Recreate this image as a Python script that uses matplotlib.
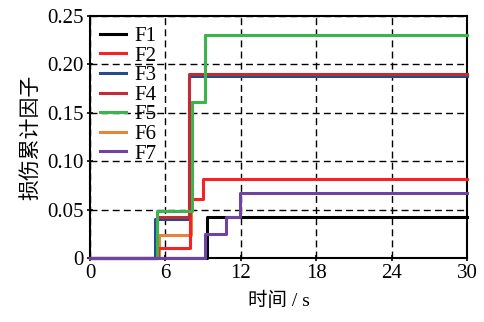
import numpy as np
import matplotlib
matplotlib.use('Agg')
import matplotlib.pyplot as plt

plt.rcParams['font.family'] = ['Liberation Serif', 'Noto Sans CJK SC']
plt.rcParams['mathtext.fontset'] = 'stix'

# step series: change times (s) and levels after each change
t_end = 30
f1_t = [0, 9.3]
f1_v = [0, 0.042]
f2_t = [0, 5.4, 7.95, 8.95]
f2_v = [0, 0.010, 0.061, 0.082]
f3_t = [0, 5.2, 7.85]
f3_v = [0, 0.040, 0.188]
f4_t = [0, 5.3, 7.85]
f4_v = [0, 0.042, 0.190]
f5_t = [0, 5.3, 8.1, 9.15]
f5_v = [0, 0.048, 0.161, 0.230]
f6_t = [0, 5.45, 8.05, 9.15]
f6_v = [0, 0.024, 0.161, 0.230]
f7_t = [0, 9.15, 10.8, 11.9]
f7_v = [0, 0.025, 0.042, 0.067]

series = [
    ('F1', f1_t, f1_v, '#000000', 5),
    ('F2', f2_t, f2_v, '#f42424', 5),
    ('F3', f3_t, f3_v, '#234e8c', 4),
    ('F4', f4_t, f4_v, '#c22a36', 5),
    ('F5', f5_t, f5_v, '#3bb44e', 5),
    ('F6', f6_t, f6_v, '#e5843a', 3),
    ('F7', f7_t, f7_v, '#6f44a0', 6),
]

fig = plt.figure(figsize=(4.84, 3.22), dpi=100)
ax = fig.add_axes([0.186, 0.199, 0.779, 0.751])

for name, t, v, c, z in series:
    ax.step(t + [t_end], v + [v[-1]], where='post', color=c, lw=2.2,
            label=name, zorder=z, clip_on=False)

ax.set_xlim(0, 30)
ax.set_ylim(0, 0.25)
ax.set_xticks([0, 6, 12, 18, 24, 30])
ax.set_yticks([0, 0.05, 0.10, 0.15, 0.20, 0.25])
ax.set_yticklabels(['0', '0.05', '0.10', '0.15', '0.20', '0.25'])
ax.grid(True, color='black', ls=(0, (5, 3)), lw=1.0)
ax.tick_params(labelsize=15, direction='inout', length=5, width=1.2, colors='black', pad=2)
for s in ax.spines.values():
    s.set_linewidth(1.5)
    s.set_zorder(2.5)

ax.set_xlabel('时间 / s', fontsize=14, labelpad=6)
ax.set_ylabel('损伤累计因子', fontsize=15, labelpad=4)

ax.legend(loc='upper left', frameon=False, fontsize=15, handlelength=1.25,
          labelspacing=0.0, borderaxespad=0.2, handletextpad=0.4,
          borderpad=0.3)

fig.savefig('out.png', dpi=100)
